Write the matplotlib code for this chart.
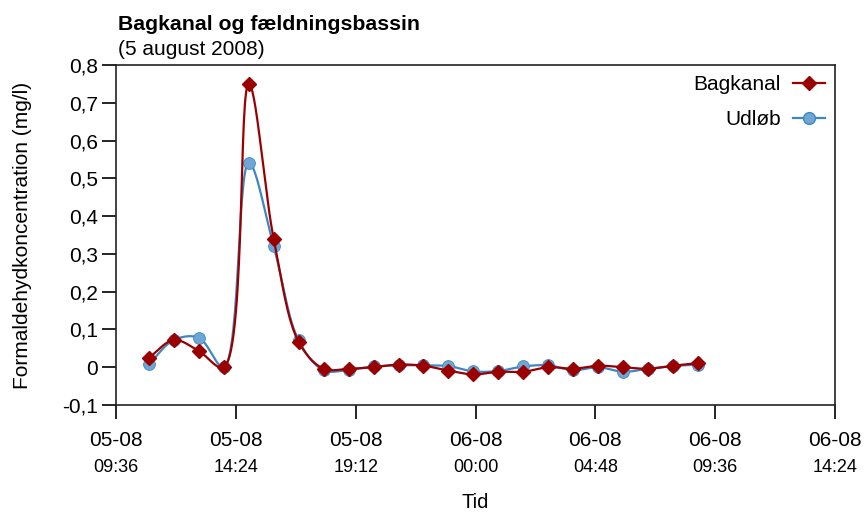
import numpy as np
import pandas as pd
import matplotlib
matplotlib.use("Agg")
import matplotlib.pyplot as plt
import matplotlib.dates as mdates
from matplotlib.ticker import FuncFormatter, MultipleLocator

plt.rcParams['font.family'] = ['Liberation Sans', 'DejaVu Sans']

# Data, hourly samples
start_time = "2008-08-05 10:55"
bagkanal = [0.025, 0.072, 0.043, 0.0, 0.75, 0.34, 0.067, -0.004, -0.004, 0.0,
            0.007, 0.004, -0.009, -0.019, -0.012, -0.012, 0.0, -0.004, 0.004,
            0.0, -0.004, 0.004, 0.011]
udloeb = [0.008, 0.072, 0.078, 0.0, 0.541, 0.32, 0.071, -0.008, -0.007, 0.002,
          0.005, 0.005, 0.003, -0.011, -0.01, 0.002, 0.005, -0.008, 0.0,
          -0.012, -0.004, 0.003, 0.007]
times = pd.date_range(start_time, periods=len(bagkanal), freq="60min")
tick_times = pd.date_range("2008-08-05 09:36", periods=7, freq="288min")

red = '#9b0000'
blue_line = '#3d87c6'
blue_fill = '#6ea6d4'


def smooth(x, y, sx, sy, n=30):
    # centripetal Catmull-Rom curve through the points, computed in screen-like units
    P = np.column_stack([np.asarray(x, float) * sx, np.asarray(y, float) * sy])
    P = np.vstack([2 * P[0] - P[1], P, 2 * P[-1] - P[-2]])
    out = []
    for i in range(1, len(P) - 2):
        p0, p1, p2, p3 = P[i - 1], P[i], P[i + 1], P[i + 2]
        t0 = 0.0
        t1 = t0 + np.linalg.norm(p1 - p0) ** 0.5 + 1e-9
        t2 = t1 + np.linalg.norm(p2 - p1) ** 0.5 + 1e-9
        t3 = t2 + np.linalg.norm(p3 - p2) ** 0.5 + 1e-9
        t = np.linspace(t1, t2, n, endpoint=False)[:, None]
        a1 = (t1 - t) / (t1 - t0) * p0 + (t - t0) / (t1 - t0) * p1
        a2 = (t2 - t) / (t2 - t1) * p1 + (t - t1) / (t2 - t1) * p2
        a3 = (t3 - t) / (t3 - t2) * p2 + (t - t2) / (t3 - t2) * p3
        b1 = (t2 - t) / (t2 - t0) * a1 + (t - t0) / (t2 - t0) * a2
        b2 = (t3 - t) / (t3 - t1) * a2 + (t - t1) / (t3 - t1) * a3
        out.append((t2 - t) / (t2 - t1) * b1 + (t - t1) / (t2 - t1) * b2)
    out.append(P[-2][None, :])
    c = np.vstack(out)
    return c[:, 0] / sx, c[:, 1] / sy


fig = plt.figure(figsize=(8.64, 5.15), dpi=100)
ax = fig.add_axes([116 / 864, 1 - 405 / 515, (835 - 116) / 864, (405 - 65) / 515])

xnum = mdates.date2num(times)
# approx pixels per day and per unit of concentration
px_day, px_unit = 25 * 24, 376

cx, cy = smooth(xnum, udloeb, px_day, px_unit)
ax.plot(cx, cy, color=blue_line, lw=1.6, zorder=2)
ax.plot(xnum, udloeb, 'o', color=blue_fill, mec=blue_line, mew=0.6, ms=8.5, zorder=3)
cx, cy = smooth(xnum, bagkanal, px_day, px_unit)
ax.plot(cx, cy, color=red, lw=1.6, zorder=4)
ax.plot(xnum, bagkanal, 'D', color=red, ms=7.5, zorder=5)

# legend handles
h1, = ax.plot([], [], color=red, marker='D', ms=7.5, lw=1.6, label='Bagkanal')
h2, = ax.plot([], [], color=blue_line, marker='o', mfc=blue_fill, mec=blue_line,
              ms=8.5, lw=1.6, label='Udløb')
ax.legend(handles=[h1, h2], loc='upper right', frameon=False, markerfirst=False,
          fontsize=15, handlelength=1.5, handletextpad=0.6, labelspacing=0.75,
          borderpad=0.3, borderaxespad=0.2, bbox_to_anchor=(1.0, 1.0))

ax.set_ylim(-0.1, 0.8)
ax.yaxis.set_major_locator(MultipleLocator(0.1))
ax.yaxis.set_major_formatter(FuncFormatter(
    lambda v, p: '0' if abs(v) < 1e-9 else f'{v:.1f}'.replace('.', ',')))

tnum = mdates.date2num(tick_times)
ax.set_xlim(tnum[0], tnum[-1])
ax.set_xticks(tnum)
ax.set_xticklabels([t.strftime('%d-%m') for t in tick_times])
for tx, t in zip(tnum, tick_times):
    ax.text(tx, -0.16, t.strftime('%H:%M'), transform=ax.get_xaxis_transform(),
            ha='center', va='top', fontsize=13)

ax.tick_params(axis='y', labelsize=15, length=10, width=1.2, direction='out', pad=3)
ax.tick_params(axis='x', labelsize=15, length=10, width=1.2, direction='out', pad=9)
for s in ax.spines.values():
    s.set_linewidth(1.2)
    s.set_color('#222222')

ax.set_ylabel('Formaldehydkoncentration (mg/l)', fontsize=15, labelpad=22)
ax.set_xlabel('Tid', fontsize=14.5, labelpad=31)

fig.text(118 / 864, 1 - 30 / 515, 'Bagkanal og fældningsbassin', fontsize=15.3,
         fontweight='bold', ha='left', va='baseline')
fig.text(118 / 864, 1 - 55 / 515, '(5 august 2008)', fontsize=15,
         ha='left', va='baseline')

fig.savefig('out.png', dpi=100)
